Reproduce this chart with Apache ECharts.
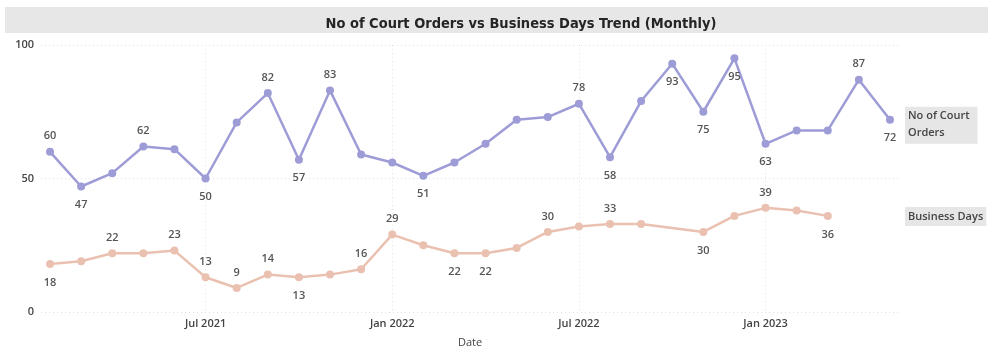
<!DOCTYPE html>
<html>
<head>
<meta charset="utf-8">
<script src="https://cdn.jsdelivr.net/npm/echarts@6/dist/echarts.min.js"></script>
<style>
  html, body { margin: 0; padding: 0; background: #ffffff; }
  #chart { width: 988px; height: 353px; }
</style>
</head>
<body>
<div id="chart"></div>
<script>
// Monthly periods, Feb 2021 .. May 2023
var months = [
  'Feb 2021', 'Mar 2021', 'Apr 2021', 'May 2021', 'Jun 2021', 'Jul 2021',
  'Aug 2021', 'Sep 2021', 'Oct 2021', 'Nov 2021', 'Dec 2021', 'Jan 2022',
  'Feb 2022', 'Mar 2022', 'Apr 2022', 'May 2022', 'Jun 2022', 'Jul 2022',
  'Aug 2022', 'Sep 2022', 'Oct 2022', 'Nov 2022', 'Dec 2022', 'Jan 2023',
  'Feb 2023', 'Mar 2023', 'Apr 2023', 'May 2023'
];

var courtOrders = [
  60, 47, 52, 62, 61, 50, 71, 82, 57, 83, 59, 56,
  51, 56, 63, 72, 73, 78, 58, 79, 93, 75, 95, 63,
  68, 68, 87, 72
];

var businessDays = [
  18, 19, 22, 22, 23, 13, 9, 14, 13, 14, 16, 29,
  25, 22, 22, 24, 30, 32, 33, 33, null, 30, 36, 39,
  38, 36, null, null
];

var xTickLabels = ['Jul 2021', 'Jan 2022', 'Jul 2022', 'Jan 2023'];
var yTicks = [0, 50, 100];

// Which points carry a value label, and on which side of the line
var courtLabelSide = {
  0: 'top', 1: 'bottom', 3: 'top', 5: 'bottom', 7: 'top', 8: 'bottom',
  9: 'top', 12: 'bottom', 17: 'top', 18: 'bottom', 20: 'bottom',
  21: 'bottom', 22: 'bottom', 23: 'bottom', 26: 'top', 27: 'bottom'
};
var businessLabelSide = {
  0: 'bottom', 2: 'top', 4: 'top', 5: 'top', 6: 'top', 7: 'top',
  8: 'bottom', 10: 'top', 11: 'top', 13: 'bottom', 14: 'bottom',
  16: 'top', 18: 'top', 21: 'bottom', 23: 'top', 25: 'bottom'
};

var COURT_COLOR = '#9d9cd6';
var BDAYS_COLOR = '#eac1b0';
var LABEL_FONT = '"Open Sans", "DejaVu Sans", sans-serif';

function buildPoints(values, sides) {
  var out = [];
  values.forEach(function (v, i) {
    if (v === null) return;
    var side = sides[i];
    out.push({
      value: [i, v],
      label: side ? {
        show: true,
        position: side,
        distance: side === 'top' ? 6 : 9
      } : { show: false }
    });
  });
  return out;
}

var chart = echarts.init(document.getElementById('chart'), null, { renderer: 'canvas' });

var tickIdx = xTickLabels.map(function (t) { return months.indexOf(t); });

var titleBand = {
  type: 'rect',
  z: -1,
  shape: { x: 5, y: 7, width: 983, height: 26 },
  style: { fill: '#e7e7e7' }
};

var option = {
  backgroundColor: '#ffffff',
  animation: false,
  title: {
    text: 'No of Court Orders vs Business Days Trend (Monthly)',
    left: 516,
    top: 12,
    textAlign: 'center',
    textStyle: {
      fontFamily: '"Liberation Sans Narrow", "DejaVu Sans Condensed", sans-serif',
      fontWeight: 'bold',
      fontSize: 14.5,
      color: '#252525'
    }
  },
  grid: { left: 41, right: 89, top: 45, bottom: 37, containLabel: false },
  xAxis: {
    type: 'value',
    min: -0.29,
    max: 27.29,
    name: 'Date',
    nameLocation: 'middle',
    nameGap: 25,
    nameTextStyle: { fontFamily: LABEL_FONT, fontSize: 11, color: '#444' },
    axisLine: { show: false },
    axisTick: { show: false, customValues: tickIdx },
    axisLabel: {
      customValues: tickIdx,
      margin: 6,
      fontFamily: LABEL_FONT,
      fontSize: 11,
      fontWeight: 600,
      color: '#444',
      formatter: function (v) { return months[Math.round(v)] || ''; }
    },
    splitLine: {
      show: true,
      lineStyle: { color: '#e4e4e4', type: [1, 3], width: 1 }
    }
  },
  yAxis: {
    type: 'value',
    min: yTicks[0],
    max: yTicks[yTicks.length - 1],
    interval: yTicks[1] - yTicks[0],
    axisLine: { show: false },
    axisTick: { show: false },
    axisLabel: {
      margin: 7,
      fontFamily: LABEL_FONT,
      fontSize: 11,
      fontWeight: 600,
      color: '#444'
    },
    splitLine: {
      show: true,
      lineStyle: { color: '#e0e0e0', type: [1, 3], width: 1 }
    }
  },
  series: [
    {
      name: 'No of Court Orders',
      type: 'line',
      data: buildPoints(courtOrders, courtLabelSide),
      symbol: 'circle',
      symbolSize: 8,
      lineStyle: { color: COURT_COLOR, width: 2.5 },
      itemStyle: { color: COURT_COLOR },
      label: {
        fontFamily: LABEL_FONT,
        fontSize: 11,
        fontWeight: 600,
        color: '#555',
        formatter: function (p) { return p.value[1]; }
      },
      z: 3
    },
    {
      name: 'Business Days',
      type: 'line',
      data: buildPoints(businessDays, businessLabelSide),
      connectNulls: true,
      symbol: 'circle',
      symbolSize: 8,
      lineStyle: { color: BDAYS_COLOR, width: 2.5 },
      itemStyle: { color: BDAYS_COLOR },
      label: {
        fontFamily: LABEL_FONT,
        fontSize: 11,
        fontWeight: 600,
        color: '#555',
        formatter: function (p) { return p.value[1]; }
      },
      z: 2
    }
  ],
  graphic: [titleBand]
};

chart.setOption(option);

// Series name tags on the right, level with each series' last value
function lastValue(arr) {
  for (var i = arr.length - 1; i >= 0; i--) {
    if (arr[i] !== null) return arr[i];
  }
  return 0;
}
var tagX = 905;
var courtY = chart.convertToPixel({ gridIndex: 0 }, [0, lastValue(courtOrders)])[1];
var bdaysY = chart.convertToPixel({ gridIndex: 0 }, [0, lastValue(businessDays)])[1];

chart.setOption({
  graphic: [
    titleBand,
    {
      type: 'text',
      left: tagX,
      top: courtY - 13,
      style: {
        text: 'No of Court\nOrders',
        fontFamily: LABEL_FONT,
        fontSize: 11,
        fontWeight: 600,
        lineHeight: 17,
        fill: '#444',
        backgroundColor: '#e6e6e6',
        padding: [1, 8, 2, 3]
      }
    },
    {
      type: 'text',
      left: tagX,
      top: bdaysY - 9,
      style: {
        text: 'Business Days',
        fontFamily: LABEL_FONT,
        fontSize: 11,
        fontWeight: 600,
        lineHeight: 17,
        fill: '#444',
        backgroundColor: '#e6e6e6',
        padding: [1, 3, 1, 3]
      }
    }
  ]
});
</script>
</body>
</html>
